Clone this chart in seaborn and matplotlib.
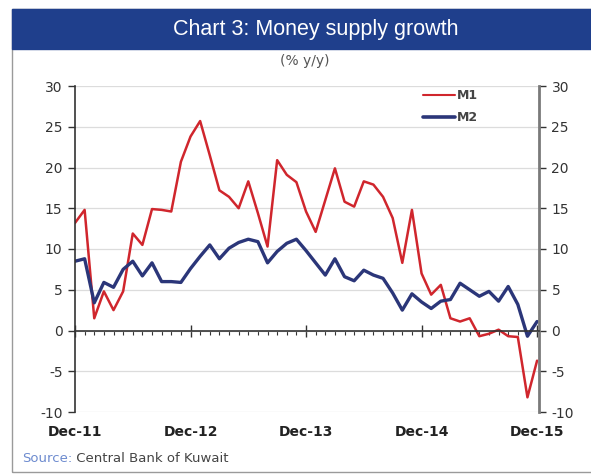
import pandas as pd
import matplotlib
matplotlib.use("Agg")
import matplotlib.pyplot as plt
from matplotlib.lines import Line2D
from matplotlib.patches import Rectangle
import seaborn as sns

# monthly, Dec-11 .. Dec-15 (% y/y)
MONTHS = pd.date_range("2011-12-01", periods=49, freq="MS")
M1 = [13.2, 14.8, 1.5, 4.8, 2.5, 4.8, 11.9, 10.5, 14.9, 14.8, 14.6, 20.7,
      23.8, 25.7, 21.5, 17.2, 16.4, 15.0, 18.3, 14.4, 10.3, 20.9, 19.1, 18.2,
      14.6, 12.1, 16.0, 19.9, 15.8, 15.2, 18.3, 17.9, 16.4, 13.8, 8.3, 14.8,
      7.0, 4.4, 5.6, 1.5, 1.1, 1.5, -0.7, -0.4, 0.1, -0.7, -0.8, -8.2,
      -3.7]
M2 = [8.5, 8.8, 3.4, 5.9, 5.3, 7.5, 8.5, 6.7, 8.3, 6.0, 6.0, 5.9,
      7.6, 9.1, 10.5, 8.8, 10.1, 10.8, 11.2, 10.9, 8.3, 9.7, 10.7, 11.2,
      9.8, 8.3, 6.8, 8.8, 6.6, 6.1, 7.4, 6.8, 6.4, 4.6, 2.5, 4.5,
      3.5, 2.7, 3.6, 3.8, 5.8, 5.0, 4.2, 4.8, 3.6, 5.4, 3.2, -0.7,
      1.1]
SERIES = ["M1", "M2"]
X_TICKS = [0, 12, 24, 36, 48]
X_LABELS = ["Dec-11", "Dec-12", "Dec-13", "Dec-14", "Dec-15"]
Y_TICKS = [-10, -5, 0, 5, 10, 15, 20, 25, 30]

RED = "#d0262d"
NAVY = "#2b3679"
BAR = "#1f3f8c"
DARK = "#333333"

sns.set_theme(style="white")
plt.rcParams["font.family"] = ["DejaVu Sans"]
plt.rcParams["axes.unicode_minus"] = False

df = pd.DataFrame({"month": range(len(MONTHS)), "M1": M1, "M2": M2})
long_df = df.melt(id_vars="month", var_name="series", value_name="growth")

fig = plt.figure(figsize=(5.91, 4.75), dpi=100)
ax = fig.add_axes([75 / 591, 1 - 412 / 475, 464 / 591, 326 / 475])

sns.lineplot(data=long_df, x="month", y="growth", hue="series", size="series",
             palette={"M1": RED, "M2": NAVY}, sizes={"M1": 1.8, "M2": 2.4},
             ax=ax, legend=False)

ax.set_xlim(0, 48.2)
ax.set_ylim(-10, 30)
ax.set_xlabel("")
ax.set_ylabel("")

# y axis on both sides
ax.set_yticks(Y_TICKS)
ax.yaxis.grid(True, color="#dcdcdc", lw=0.9)
ax.set_axisbelow(True)
ax.tick_params(axis="y", left=True, right=True, labelleft=True, labelright=True,
               direction="out", length=5, width=1, color=DARK,
               labelsize=10, labelcolor=DARK, pad=4)

# x axis sits on the zero line, labels at the bottom
ax.spines["bottom"].set_position(("data", 0))
ax.set_xticks(X_TICKS)
ax.set_xticks(range(len(MONTHS)), minor=True)
ax.tick_params(axis="x", which="major", bottom=True, direction="inout",
               length=9, width=1, color=DARK, labelbottom=False)
ax.tick_params(axis="x", which="minor", bottom=True, direction="out",
               length=3, width=0.8, color=DARK)
sec = ax.secondary_xaxis("bottom")
sec.set_xticks(X_TICKS, labels=X_LABELS)
sec.tick_params(length=0, pad=9, labelsize=10, labelcolor="#222222")
for lbl in sec.get_xticklabels():
    lbl.set_fontweight("bold")
sec.spines["bottom"].set_visible(False)

ax.spines["top"].set_visible(False)
ax.spines["left"].set_color(DARK)
ax.spines["left"].set_linewidth(1.2)
ax.spines["bottom"].set_color(DARK)
ax.spines["bottom"].set_linewidth(1.2)
ax.spines["right"].set_color("#7a7a7a")
ax.spines["right"].set_linewidth(2)

handles = [Line2D([], [], color=RED, lw=1.5), Line2D([], [], color=NAVY, lw=2.6)]
leg = ax.legend(handles, SERIES, loc="upper left", bbox_to_anchor=(0.725, 1.025),
                frameon=False, handlelength=2.6, handletextpad=0.1,
                labelspacing=0.75, prop={"size": 9, "weight": "bold"})
for t in leg.get_texts():
    t.set_color("#444444")

# frame and title bar
fig.patches.append(Rectangle((12 / 591, 3 / 475), 1, 1 - 12 / 475,
                             transform=fig.transFigure, fill=False,
                             edgecolor="#9a9a9a", lw=1))
fig.patches.append(Rectangle((12 / 591, 1 - 49 / 475), 1, 40 / 475,
                             transform=fig.transFigure, color=BAR))
fig.text(316 / 591, 1 - 30 / 475, "Chart 3: Money supply growth",
         color="white", ha="center", va="center", fontsize=15.5,
         family=["Liberation Sans", "DejaVu Sans"])
fig.text(305 / 591, 1 - 61 / 475, "(% y/y)", color="#555555",
         ha="center", va="center", fontsize=10)
src = fig.text(22 / 591, 1 - 459 / 475, "Source:", color="#6d8bcf",
               ha="left", va="center", fontsize=9.5)
ax.annotate(" Central Bank of Kuwait", xy=(1, 0.5), xycoords=src,
            ha="left", va="center", fontsize=9.5, color="#444444",
            annotation_clip=False)

fig.savefig("out.png", dpi=100)
